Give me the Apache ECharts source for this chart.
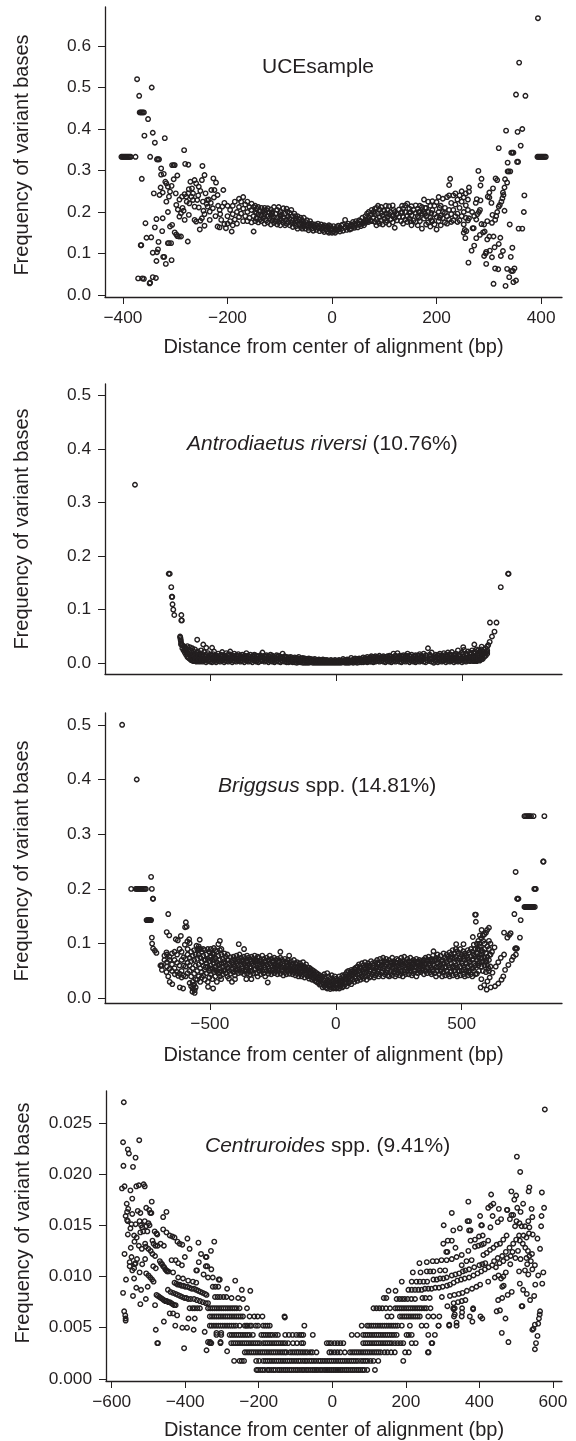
<!DOCTYPE html>
<html><head><meta charset="utf-8">
<style>html,body{margin:0;padding:0;background:#fff}#c{width:576px;height:1441px}</style>
<script src="https://cdn.jsdelivr.net/npm/echarts@6/dist/echarts.min.js"></script>
</head><body><div id="c"></div>
<script>
// ---------- tick labels ----------
const uceXTicks=[-400,-200,0,200,400];
const uceYTicks=[0,0.1,0.2,0.3,0.4,0.5,0.6];
const antroXTicks=[-500,0,500];
const antroYTicks=[0,0.1,0.2,0.3,0.4,0.5];
const briggsXTicks=[-500,0,500];
const briggsYTicks=[0,0.1,0.2,0.3,0.4,0.5];
const centXTicks=[-600,-400,-200,0,200,400,600];
const centYTicks=[0,0.005,0.01,0.015,0.02,0.025];
const yName='Frequency of variant bases';
const xName='Distance from center of alignment (bp)';

// ---------- UCE sample: [x, y] read points, then [x, y, y, ...] columns in the dense band ----------
const ucePoints=[[-403,.333],[-401,.333],[-399,.333],[-397,.333],[-395,.333],[-393,.333],[-391,.333],[-389,.333],[-387,.333],[-385,.333],[-376,.333],[-373,.52],[-369,.48],[-368,.44],[-366,.44],[-364,.44],[-362,.44],[-360,.44],[-352,.424],[-345,.5],[-343,.391],[-359,.384],[-339,.367],[-320,.378],[-348,.333],[-335,.327],[-333,.327],[-331,.327],[-327,.305],[-364,.28],[-327,.29],[-322,.292],[-341,.245],[-330,.241],[-324,.247],[-328,.259],[-319,.273],[-317,.269],[-314,.261],[-307,.263],[-317,.225],[-312,.237],[-310,.249],[-299,.245],[-303,.279],[-296,.288],[-306,.313],[-303,.313],[-301,.313],[-283,.349],[-281,.316],[-275,.314],[-248,.311],[-357,.173],[-336,.183],[-324,.185],[-339,.163],[-325,.154],[-355,.138],[-346,.139],[-332,.128],[-366,.12],[-365,.12],[-314,.2],[-310,.165],[-306,.169],[-301,.151],[-298,.146],[-296,.142],[-293,.141],[-289,.141],[-276,.129],[-314,.125],[-312,.125],[-308,.125],[-333,.11],[-343,.102],[-335,.103],[-323,.092],[-321,.092],[-336,.082],[-307,.084],[-318,.075],[-371,.04],[-363,.04],[-360,.039],[-343,.043],[-337,.041],[-348,.03],[-349,.028],
[-292,.23],[-287,.237],[-282,.243],[-279,.237],[-275,.245],[-271,.273],[-274,.255],[-268,.257],[-263,.277],[-260,.269],[-255,.261],[-252,.251],[-249,.277],[-244,.289],[-269,.237],[-266,.229],[-258,.229],[-247,.225],[-239,.229],[-231,.253],[-227,.281],[-222,.271],[-208,.253],[-225,.253],[-219,.241],[-298,.217],[-295,.206],[-289,.197],[-284,.203],[-292,.189],[-282,.181],[-274,.193],[-273,.221],[-263,.213],[-255,.211],[-246,.203],[-238,.213],[-234,.201],[-228,.209],[-263,.181],[-260,.177],[-252,.179],[-249,.185],[-244,.167],[-253,.158],[-234,.181],[-223,.19],[-219,.165],[-215,.163],[-215,.205],[-210,.213],[-206,.222],[-212,.181],[-206,.171],[-203,.161],[-192,.153],[-150,.153],[-240,.22],[-236,.23],[-242,.245],[-256,.24],[-266,.245],[-286,.21],[-278,.225],[-244,.195],[-232,.222],[-226,.235],[-218,.215],[-214,.195],
[394,.667],[358,.56],[352,.483],[370,.48],[333,.396],[355,.393],[364,.4],[361,.36],[319,.354],[343,.343],[345,.343],[347,.343],[393,.333],[395,.333],[397,.333],[399,.333],[401,.333],[403,.333],[405,.333],[407,.333],[409,.333],[336,.319],[354,.321],[356,.321],[336,.298],[338,.298],[341,.298],[280,.299],[226,.28],[286,.28],[313,.281],[316,.277],[331,.279],[335,.271],[224,.265],[262,.259],[284,.264],[330,.259],[308,.257],[262,.249],[301,.247],[298,.237],[301,.235],[327,.247],[328,.241],[368,.24],[326,.233],[324,.225],[321,.217],[319,.213],[305,.222],[277,.231],[284,.228],[275,.222],[330,.203],[367,.2],[316,.2],[307,.193],[314,.19],[312,.181],[340,.17],[357,.16],[364,.16],[297,.178],[306,.174],[286,.171],[291,.17],[269,.161],[271,.161],[292,.153],[289,.151],[283,.145],[276,.137],[301,.141],[297,.134],[309,.141],[322,.138],[254,.157],[257,.154],[252,.15],[255,.137],[319,.123],[311,.115],[302,.107],[295,.104],[294,.1],[272,.119],[267,.107],[345,.114],[327,.106],[323,.094],[342,.092],[291,.094],[306,.091],[261,.078],[295,.075],[312,.064],[318,.062],[335,.063],[343,.058],[346,.058],[349,.064],[339,.043],[309,.027],[332,.022],[347,.031],[352,.035],[283,.205],[278,.195],[272,.19],[268,.2],[262,.185],[276,.182],[281,.2]];
const uceColumns=[[-200,.19,.172,.215],[-195,.178,.205],[-190,.168,.215,.195],[-186,.182,.225],[-182,.2,.172],[-178,.212,.188,.232],[-174,.196,.225],[-170,.208,.178,.236],[-166,.19,.218],[-162,.2,.225,.178],[-158,.186,.212],[-154,.205,.175,.22],[-150,.19,.212],[-147,.2,.178,.215],[-144,.186,.208],[-141,.195,.212,.175],[-138,.182,.203],[-135,.192,.21,.178],[-132,.185,.2],[-129,.196,.172,.21],[-126,.18,.205],[-123,.19,.209,.175],[-120,.184,.198],[-117,.194,.17,.206],[-114,.18,.2],[-111,.188,.212,.174],[-108,.178,.196],[-105,.186,.205,.17],[-102,.176,.212],[-99,.19,.168,.2],[-96,.18,.194],[-93,.174,.209,.186],[-90,.168,.196],[-87,.182,.208,.172],[-84,.176,.19],[-81,.168,.198,.184],[-78,.174,.205],[-75,.18,.164,.19],[-72,.172,.196],[-69,.166,.184],[-66,.176,.19,.16],[-63,.17,.182],[-60,.164,.186],[-57,.172,.16,.18],[-54,.168,.186],[-51,.16,.176],[-48,.166,.18],[-45,.162,.172,.156],[-42,.168,.178],[-39,.16,.172],[-36,.155,.166],[-33,.163,.17],[-30,.157,.168],[-27,.162,.172],[-24,.154,.166],[-21,.16,.17],[-18,.156,.164],[-15,.152,.168],[-12,.158,.166],[-9,.153,.164],[-6,.15,.162,.168],[-3,.155,.166],[0,.15,.16],[3,.153,.166],[6,.15,.158],[9,.155,.164],[12,.158,.167],[15,.153,.162],[18,.16,.168],[21,.155,.17],[25,.181,.162],[28,.157,.168],[31,.163,.172],[34,.158,.166],[37,.16,.17],[40,.165,.176],[43,.162,.172],[46,.168,.178],[49,.163,.174],[52,.17,.18],[55,.166,.178],[58,.172,.186],[61,.176,.168],[64,.182,.19,.174],[67,.178,.196],[70,.186,.2,.176],[73,.18,.192],[76,.195,.178,.205],[79,.186,.2],[82,.176,.208,.195],[85,.182,.21,.168],[88,.196,.215,.176],[91,.172,.206,.188],[94,.198,.212,.18],[97,.17,.192],[100,.184,.203],[103,.175,.196,.215],[106,.188,.205],[109,.17,.214,.195],[112,.182,.2],[116,.19,.216,.175],[120,.162,.2,.186],[124,.195,.18],[128,.188,.206],[132,.178,.198],[136,.188,.208,.172],[140,.2,.182,.216],[144,.19,.22,.176],[148,.198,.208,.184],[152,.192,.168,.214],[156,.18,.205],[160,.198,.176,.216],[164,.19,.168,.208],[168,.178,.215,.2],[172,.196,.16,.212],[176,.184,.2,.23],[180,.17,.21,.19],[184,.225,.175,.2],[188,.186,.165,.215],[192,.205,.178,.226],[196,.17,.215,.195],[200,.188,.158,.224],[204,.2,.178,.236],[208,.192,.168,.215],[212,.232,.185,.2],[216,.175,.21,.198],[220,.236,.19,.172],[224,.205,.182,.24],[228,.222,.176,.195],[232,.24,.205,.18],[236,.218,.19,.245],[240,.196,.23,.176],[244,.24,.21,.18],[248,.225,.19,.25],[252,.235,.2,.17],[256,.216,.245,.186],[260,.23,.18,.205],[-145,.197,.184],[-130,.19,.203],[-115,.186,.197],[-100,.195,.182],[-85,.188,.201],[-70,.178,.19],[-55,.176,.165],[105,.196,.18],[118,.205,.192],[134,.2,.215],[150,.178,.2],[166,.2,.186],[178,.196,.21],[190,.198,.18],[206,.21,.186]];

// ---------- Antrodiaetus riversi ----------
const antroPoints=[[-798,.333],[-664,.167],[-660,.167],[-654,.142],[-652,.124],[-650,.124],[-649,.11],[-646,.1],[-642,.09],[-614,.09],[-614,.08],[-612,.08],[-619,.05],[-618,.048],[-617,.045],[-616,.042],[-551,.044],[-527,.035],[-515,.029],[-492,.029],[365,.028],[388,.001],[505,.03],[549,.035],[578,.031],[611,.076],[637,.076],[654,.142],[683,.167],[685,.167],[629,.059],[619,.05],[610,.04],[604,.034],[600,.031]];
const antroColumns=[[-615,.038,.035],[-610,.034,.028],[-605,.032,.024],[-600,.03,.02,.026],[-595,.028,.016,.022],[-590,.032,.012,.02],[-585,.026,.01,.018],[-580,.03,.008,.016],[-575,.024,.006,.014],[-570,.028,.005,.012],[-565,.022,.004,.016],[-560,.026,.004,.011],[-554,.02,.003,.012],[-548,.022,.004,.01],[-542,.018,.003,.013],[-536,.024,.004,.009],[-530,.017,.003,.012],[-524,.021,.005,.01],[-516,.016,.002,.009],[-508,.019,.004,.012],[-500,.016,.003,.008],[-492,.014,.002,.01],[-484,.022,.004,.012],[-476,.015,.002,.008],[-468,.018,.004,.011],[-460,.014,.003,.008],[-452,.021,.005,.012],[-444,.015,.002,.009],[-436,.019,.004,.011],[-428,.016,.003,.008],[-420,.022,.005,.012],[-412,.015,.002,.009],[-404,.018,.004,.011],[-396,.015,.003,.008],[-388,.017,.005,.012],[-380,.014,.003,.008],[-372,.016,.004,.011],[-364,.014,.002,.009],[-356,.019,.005,.011],[-348,.014,.003,.008],[-340,.016,.004,.01],[-332,.013,.002,.008],[-324,.016,.005,.01],[-316,.014,.003,.008],[-308,.013,.002,.009],[-300,.015,.004,.01],[-292,.02,.005,.011],[-284,.014,.003,.008],[-276,.015,.004,.01],[-268,.013,.002,.008],[-260,.016,.004,.01],[-252,.014,.003,.009],[-244,.012,.002,.007],[-236,.015,.004,.01],[-228,.014,.003,.008],[-220,.012,.002,.009],[-212,.018,.004,.01],[-204,.013,.003,.008],[-196,.012,.002,.007],[-188,.011,.002,.008],[-180,.012,.003,.007],[-172,.01,.002,.006],[-164,.011,.002,.007],[-156,.01,.001,.006],[-148,.012,.002,.007],[-140,.009,.002,.005],[-132,.01,.001,.006],[-124,.009,.001,.005],[-116,.008,.001,.005],[-108,.009,.001,.004],[-100,.008,.002,.005],[-92,.007,.001,.004],[-84,.008,.001,.005],[-76,.006,.001,.004],[-68,.007,.001,.003],[-60,.006,.001,.004],[-52,.007,.001,.004],[-44,.006,.001,.003],[-36,.006,.001,.004],[-28,.005,.001,.003],[-20,.006,.001,.003],[-12,.005,.001,.004],[-4,.006,.001,.003],[4,.005,.001,.003],[12,.006,.001,.004],[20,.005,.001,.003],[28,.008,.002,.004],[36,.006,.001,.003],[44,.007,.001,.004],[52,.006,.001,.004],[60,.01,.002,.005],[68,.007,.001,.004],[76,.009,.002,.005],[84,.008,.001,.005],[92,.009,.002,.006],[100,.008,.002,.005],[108,.011,.002,.006],[116,.01,.003,.007],[124,.012,.002,.006],[132,.01,.003,.007],[140,.013,.003,.007],[148,.012,.002,.008],[156,.013,.003,.008],[164,.012,.004,.008],[172,.014,.003,.009],[180,.012,.004,.008],[188,.013,.003,.009],[196,.012,.002,.008],[204,.013,.004,.009],[212,.014,.003,.008],[220,.012,.002,.009],[228,.018,.004,.01],[236,.014,.003,.008],[244,.019,.004,.01],[252,.013,.003,.009],[260,.014,.002,.008],[268,.015,.004,.01],[276,.013,.003,.008],[284,.018,.004,.01],[292,.014,.002,.008],[300,.016,.004,.009],[308,.013,.003,.008],[316,.015,.002,.01],[324,.014,.004,.009],[332,.017,.003,.008],[340,.014,.005,.01],[348,.018,.003,.009],[356,.015,.002,.01],[372,.016,.004,.009],[380,.02,.003,.01],[396,.016,.004,.011],[404,.015,.002,.009],[412,.018,.004,.011],[420,.015,.003,.008],[428,.019,.005,.012],[436,.016,.002,.009],[444,.02,.004,.012],[452,.017,.003,.009],[460,.021,.005,.012],[468,.016,.002,.009],[476,.018,.004,.012],[484,.024,.003,.009],[492,.017,.005,.012],[500,.02,.002,.009],[508,.025,.004,.012],[516,.018,.003,.009],[524,.022,.005,.012],[532,.02,.004,.011],[540,.024,.005,.013],[546,.02,.004,.012],[552,.022,.005,.014],[558,.026,.004,.012],[564,.024,.006,.014],[570,.022,.005,.012],[576,.026,.007,.016],[582,.022,.008,.014],[588,.026,.012,.018],[594,.028,.014,.02],[600,.024,.018,.021]];
const antroExtra=[[-572,.017,.009],[-557,.016,.007],[-545,.014,.007],[-533,.015,.006],[-520,.013,.006],[-504,.014,.006],[-488,.017,.007],[-472,.013,.006],[-456,.016,.007],[-440,.013,.006],[-424,.017,.007],[-408,.013,.006],[-392,.014,.007],[-376,.012,.006],[-360,.014,.007],[-344,.012,.006],[-328,.014,.007],[-312,.012,.006],[-296,.013,.007],[-280,.012,.006],[-264,.013,.006],[-248,.011,.006],[-232,.012,.006],[-216,.012,.006],[-200,.011,.005],[-184,.01,.005],[-168,.009,.005],[-152,.009,.004],[-136,.008,.004],[-120,.007,.003],[120,.008,.005],[136,.01,.005],[152,.01,.006],[168,.011,.006],[184,.011,.006],[200,.012,.006],[216,.012,.006],[232,.013,.006],[248,.013,.007],[264,.012,.006],[280,.014,.007],[296,.012,.006],[312,.013,.006],[328,.014,.007],[344,.012,.007],[360,.014,.006],[376,.014,.007],[392,.013,.006],[408,.015,.007],[424,.014,.006],[440,.015,.007],[456,.014,.007],[472,.015,.007],[488,.015,.006],[504,.017,.007],[520,.016,.008],[536,.018,.008],[550,.018,.009],[566,.018,.01],[580,.019,.011]];

// ---------- Briggsus spp. ----------
const briggsPoints=[[-848,.5],[-790,.4],[-812,.2],[-794,.2],[-790,.2],[-786,.2],[-782,.2],[-778,.2],[-774,.2],[-770,.2],[-766,.2],[-762,.2],[-758,.2],[-754,.2],[-730,.2],[-733,.222],[-726,.182],[-725,.182],[-751,.143],[-748,.143],[-745,.143],[-742,.143],[-739,.143],[-736,.143],[-733,.143],[-730,.111],[-729,.1],[-725,.091],[-718,.087],[-712,.083],[-665,.154],[-671,.121],[-661,.115],[-615,.114],[-635,.108],[-627,.106],[-595,.139],[-598,.13],[-592,.131],[-582,.108],[-589,.104],[-540,.107],[-599,.098],[-580,.101],[-553,.096],[-543,.091],[-460,.105],[-466,.099],[-454,.09],[-385,.099],[-364,.09],[-696,.06],[-693,.06],[-672,.084],[-672,.048],[-665,.04],[-659,.03],[-649,.026],[-639,.044],[-625,.041],[-612,.038],[-619,.02],[-606,.018],[-566,.024],[-560,.015],[-569,.012],[-560,.01],[-507,.021],[-487,.018],[-455,.035],[-400,.035],[-355,.035],[-335,.035],[-270,.029],[-250,.066],[-220,.085],[-185,.078],
[828,.333],[749,.333],[755,.333],[760,.333],[765,.333],[770,.333],[775,.333],[785,.333],[823,.25],[825,.25],[714,.231],[788,.2],[791,.2],[794,.2],[720,.182],[722,.182],[725,.182],[749,.167],[753,.167],[757,.167],[761,.167],[765,.167],[769,.167],[773,.167],[777,.167],[781,.167],[785,.167],[790,.167],[709,.154],[734,.143],[553,.153],[556,.153],[556,.14],[668,.12],[694,.119],[689,.116],[681,.111],[731,.111],[712,.091],[714,.091],[717,.091],[719,.091],[668,.08],[608,.129],[601,.125],[579,.125],[590,.117],[572,.115],[544,.112],[478,.099],[507,.099],[388,.086],[599,.016],[615,.02],[632,.022],[645,.027],[658,.034],[665,.04],[672,.052],[685,.061],[699,.07],[705,.076],[715,.08],[575,.02],[589,.024],[602,.031],[611,.038],[622,.047],[635,.058],[645,.066],[655,.074],[620,.085],[630,.093],[612,.08],[598,.07],[606,.055],[568,.05],[560,.045],[578,.035],[590,.09],[585,.105],[570,.1],[563,.09]];
const briggsColumns=[[-690,.06,.052],[-680,.078,.07],[-670,.066,.08,.058],[-660,.054,.076,.07],[-650,.062,.05,.082],[-640,.055,.07,.085],[-630,.048,.065,.08],[-620,.06,.045,.09],[-612,.07,.05,.085],[-604,.042,.075,.06],[-596,.058,.072,.04],[-588,.046,.08,.065,.09],[-580,.028,.06,.074,.05],[-574,.04,.068,.085,.022],[-568,.055,.03,.078,.018],[-562,.045,.07,.088,.025],[-556,.06,.035,.08,.02],[-550,.05,.072,.09,.034],[-544,.04,.062,.08,.095],[-538,.055,.03,.075,.09],[-532,.048,.066,.085,.038],[-526,.06,.042,.078,.09],[-520,.052,.07,.034,.088],[-514,.046,.064,.08],[-508,.058,.03,.072,.09],[-502,.05,.068,.038,.085],[-496,.044,.06,.078,.09],[-490,.055,.07,.035,.082],[-484,.048,.064,.08,.092],[-478,.058,.04,.074,.088],[-472,.05,.066,.03,.085],[-466,.045,.06,.078],[-460,.055,.07,.04,.088],[-454,.05,.064,.08],[-448,.044,.058,.072],[-442,.052,.068,.082],[-436,.046,.06,.076],[-430,.04,.055,.07,.08],[-424,.05,.064,.036],[-418,.045,.06,.075],[-412,.052,.066,.03],[-406,.048,.062,.076],[-400,.042,.058,.07],[-394,.05,.064,.078],[-388,.046,.06,.072],[-382,.052,.068,.08],[-376,.047,.062,.074],[-370,.05,.058,.07],[-364,.044,.064,.076],[-358,.05,.06,.072],[-352,.045,.056,.068,.078],[-346,.05,.062,.074],[-340,.043,.058,.07],[-334,.05,.064,.076],[-328,.045,.06,.072],[-322,.052,.066,.078],[-316,.046,.06,.07],[-310,.04,.056,.068,.076],[-304,.05,.062,.074],[-298,.044,.058,.07],[-292,.05,.064,.078],[-286,.046,.06,.072],[-280,.04,.056,.068],[-274,.05,.062,.074],[-268,.045,.058,.07],[-262,.05,.064,.078],[-256,.044,.06,.072],[-250,.05,.058,.068],[-244,.046,.062,.074],[-238,.05,.056,.07],[-232,.044,.06,.072],[-226,.05,.058,.068],[-220,.045,.062,.074],[-214,.05,.056,.07],[-208,.042,.06,.068],[-202,.048,.056,.072],[-196,.044,.058,.066],[-190,.05,.06,.07],[-184,.045,.055,.065],[-178,.05,.058,.068],[-172,.044,.054,.062],[-166,.048,.058,.07],[-160,.042,.052,.064],[-154,.046,.056,.066],[-148,.04,.05,.06],[-142,.045,.055,.064],[-136,.04,.05,.06],[-130,.044,.054,.066],[-124,.038,.05,.058],[-118,.044,.052,.062],[-112,.04,.05,.056],[-106,.036,.046,.056],[-100,.04,.048,.054],[-94,.034,.044,.052],[-88,.036,.046,.05],[-82,.032,.04,.048],[-76,.03,.04,.046],[-70,.028,.038,.044],[-64,.025,.034,.042],[-58,.026,.036,.04],[-52,.02,.03,.04],[-46,.022,.032,.044],[-40,.02,.028,.036],[-34,.018,.028,.046],[-28,.022,.03,.04],[-22,.017,.026,.036],[-16,.02,.03,.042],[-10,.018,.026,.034],[-4,.02,.03,.04],[2,.018,.026,.036],[8,.02,.03,.034],[14,.018,.028,.04],[20,.022,.03,.036],[26,.02,.032,.042],[32,.022,.034,.04],[38,.026,.036,.044],[44,.022,.034,.048],[50,.028,.04,.05],[56,.03,.04,.046],[62,.026,.042,.052],[68,.034,.044,.05],[74,.03,.046,.054],[80,.036,.048,.056],[86,.032,.044,.058],[92,.038,.05,.062],[98,.034,.048,.056],[104,.04,.052,.064],[110,.036,.05,.06],[116,.04,.054,.066],[122,.034,.048,.06],[128,.042,.056,.064],[134,.038,.05,.06],[140,.04,.052,.068],[146,.044,.056,.064],[152,.038,.05,.06],[158,.042,.054,.066],[164,.046,.058,.07],[170,.04,.052,.062],[176,.044,.056,.072],[182,.048,.06,.066],[188,.04,.054,.074],[194,.044,.058,.068],[200,.048,.062,.072],[206,.042,.054,.064],[212,.04,.058,.07],[218,.046,.06,.066],[224,.042,.056,.074],[230,.048,.062,.068],[236,.04,.056,.066],[242,.044,.058,.072],[248,.048,.06,.07],[254,.042,.056,.066],[260,.046,.062,.074],[266,.04,.058,.068],[272,.048,.06,.076],[278,.044,.056,.066],[284,.05,.062,.072],[290,.044,.058,.068],[296,.05,.06,.074],[302,.042,.056,.066],[308,.046,.062,.07],[314,.05,.058,.068],[320,.04,.056,.072],[326,.046,.06,.066],[332,.05,.058,.07],[338,.048,.062,.068],[344,.052,.06,.066],[350,.044,.058,.07],[356,.05,.062,.074],[362,.046,.056,.068],[368,.052,.064,.076],[374,.048,.06,.07],[380,.044,.056,.072],[386,.05,.062,.078],[392,.046,.06,.07],[398,.04,.056,.074],[404,.05,.064,.08],[410,.044,.058,.072],[416,.05,.062,.078],[422,.04,.056,.07],[428,.048,.064,.082],[434,.042,.058,.074],[440,.05,.066,.08],[446,.044,.06,.076],[452,.04,.056,.07,.084],[458,.05,.064,.08],[464,.042,.058,.074,.088],[470,.05,.066,.082],[476,.044,.06,.076,.09],[482,.04,.056,.07,.086],[488,.05,.066,.082],[494,.042,.058,.076,.09],[500,.05,.064,.08],[506,.044,.06,.072,.086],[512,.04,.056,.07,.082],[518,.05,.064,.078],[524,.042,.058,.074,.088],[530,.05,.066,.084],[536,.044,.06,.076,.09],[542,.04,.054,.07,.085],[548,.05,.064,.08,.098],[554,.044,.06,.076,.09],[560,.07,.082,.1],[566,.06,.075,.09,.105],[572,.066,.08,.095],[578,.058,.074,.088,.11],[584,.05,.068,.085,.115],[590,.06,.075,.1],[596,.048,.066,.082,.12],[602,.06,.076,.095],[608,.05,.07,.09,.105],[614,.058,.08,.1]];
const briggsExtra=[[-517,.057,.07],[-499,.054,.075],[-481,.052,.07],[-463,.048,.063],[-445,.05,.064],[-427,.056,.07],[-409,.055,.07],[-391,.054,.068],[-373,.054,.068],[-355,.052,.066],[-337,.056,.068],[-319,.054,.069],[-301,.054,.067],[-283,.052,.066],[-265,.054,.07],[-247,.054,.067],[-229,.054,.066],[-211,.052,.064],[-193,.054,.065],[-175,.052,.062],[-157,.05,.062],[-139,.048,.056],[-121,.046,.056],[-103,.044,.051],[-85,.042,.036],[-67,.036,.03],[-49,.034,.026],[-31,.033,.024],[-13,.03,.022],[5,.032,.024],[23,.03,.026],[41,.03,.04],[59,.036,.048],[77,.04,.052],[95,.044,.056],[113,.046,.056],[131,.046,.058],[149,.048,.056],[167,.05,.064],[185,.048,.062],[203,.052,.066],[221,.05,.064],[239,.052,.064],[257,.05,.068],[275,.052,.064],[293,.054,.066],[311,.052,.064],[329,.054,.064],[347,.055,.07],[365,.056,.07],[383,.052,.068],[401,.058,.07],[419,.052,.068],[437,.056,.07],[455,.048,.074],[473,.056,.072],[491,.05,.072],[509,.052,.076],[527,.048,.07],[545,.056,.072],[563,.064,.082],[581,.066,.08]];

// ---------- Centruroides spp. ----------
const centPoints=[[-567,.027],[-569,.0231],[-556,.0224],[-553,.022],[-535,.0216],[-525,.0233],[-568,.0208],[-542,.0207],[-572,.0186],[-565,.0188],[-549,.0184],[-533,.0188],[-526,.0189],[-513,.019],[-510,.0188],[-544,.0176],[-559,.0171],[-491,.0173],[-506,.0167],[-498,.0165],[-495,.0162],[-492,.0162],[-529,.0164],[-522,.0162],[-451,.0163],[-460,.0158],[-555,.0166],[-558,.0163],[-562,.0159],[-544,.0161],[-556,.0154],[-549,.0147],[-558,.0155],[-546,.0151],[-535,.0151],[-524,.0154],[-520,.015],[-517,.0148],[-514,.0144],[-510,.0154],[-506,.0149],[-503,.0144],[-522,.0143],[-500,.0152],[-497,.015],[-556,.0141],[-539,.014],[-532,.0138],[-538,.0134],[-509,.0132],[-526,.013],[-518,.0127],[-507,.0129],[-500,.0127],[-494,.0125],[-489,.0122],[-482,.012],[-548,.0128],[-565,.0122],[-546,.0119],[-531,.0117],[-509,.0117],[-517,.0112],[-551,.0114],[-537,.0112],[-535,.0113],[-551,.011],[-544,.0106],[-539,.0108],[-524,.0104],[-561,.0097],[-539,.0098],[-506,.0103],[-500,.0101],[-495,.0099],[-490,.0097],[-486,.0095],[-469,.0115],[-466,.0113],[-463,.0112],[-460,.011],[-457,.0109],[-454,.0107],[-451,.0106],[-449,.0105],[-446,.0105],[-487,.011],[-480,.0108],[-460,.0146],[-451,.0143],[-442,.014],[-435,.0139],[-429,.0138],[-421,.0134],[-415,.0132],[-408,.0131],[-478,.0142],[-483,.0144],[-476,.0141],[-489,.0135],[-486,.0132],[-475,.013],[-481,.013],[-467,.0132],[-458,.013],[-437,.0116],[-426,.0116],[-419,.0113],[-409,.0111],[-401,.0119],[-394,.0137],[-388,.0127],[-364,.0133],[-357,.0122],[-344,.0119],[-342,.0119],[-363,.0114],[-330,.0125],[-321,.0134],[-370,.0106],[-368,.0106],[-344,.011],[-340,.011],[-329,.0107],[-433,.0104],[-419,.0099],[-406,.0098],[-392,.0096],[-379,.0095],[-370,.0094],[-350,.0102],[-338,.0099],[-325,.0099],[-309,.0097],[-306,.0097],
[-569,.0084],[-542,.0081],[-533,.0089],[-520,.0087],[-502,.009],[-507,.0078],[-522,.0073],[-482,.0072],[-566,.0066],[-563,.0062],[-562,.0059],[-562,.0057],[-480,.0048],[-476,.0035],[-474,.0035],[-458,.0056],[-442,.0064],[-433,.0064],[-422,.0062],[-427,.0052],[-408,.005],[-395,.005],[-377,.0048],[-403,.003],[-391,.0059],[-374,.0059],[-347,.0046],[-342,.0028],[-338,.0036],[-332,.0036],[-315,.0045],[-302,.0045],[-304,.0036],[-286,.0027],[-264,.0096],[-286,.0088],[-246,.0087],[-223,.0086],[-232,.0069],[-129,.006],
[-478,.0082],[-474,.0081],[-470,.008],[-466,.0079],[-462,.0078],[-458,.0077],[-454,.0076],[-450,.0076],[-446,.0075],[-442,.0075],[-438,.0074],[-434,.0073],[-430,.0072],[-426,.0072],[-447,.0087],[-440,.0085],[-433,.0084],[-426,.0083],[-420,.0082],[-414,.0081],[-408,.008],[-402,.0079],[-397,.0079],[-392,.0078],[-385,.0078],[-376,.0078],[-368,.0077],[-360,.0076],[-352,.0075],[-344,.0074],[-338,.0074],[-429,.0094],[-424,.0093],[-420,.0092],[-415,.0092],[-410,.0091],[-405,.0091],[-400,.009],[-394,.009],[-388,.0089],[-382,.0088],[-376,.0088],[-370,.0087],[-364,.0086],[-358,.0085],[-352,.0084],[-346,.0083],[-342,.0082],[-319,.008],[-312,.008],[-305,.008],[-296,.008],[-288,.008],[-274,.0079],[-256,.0079],[-243,.0078],[-325,.009],[-318,.009],[-310,.009],
[578,.0263],[502,.0217],[511,.0202],[536,.0187],[534,.0183],[487,.0183],[500,.0179],[495,.0175],[570,.0182],[432,.018],[370,.0173],[519,.0171],[503,.0167],[512,.0163],[576,.0167],[542,.0166],[475,.0165],[476,.0165],[453,.0166],[438,.0171],[431,.0169],[424,.0167],[325,.0162],[402,.0159],[436,.0159],[459,.0156],[450,.0153],[483,.0156],[487,.016],[492,.016],[544,.0158],[569,.0159],[368,.0154],[372,.0154],[405,.015],[407,.015],[430,.0148],[303,.015],[329,.0145],[347,.0147],[372,.0145],[376,.0145],[501,.0154],[509,.0152],[497,.0149],[515,.0149],[524,.0149],[536,.0148],[533,.0154],[568,.0149],[545,.0141],[558,.0137],[565,.0127],[302,.0132],[314,.0135],[325,.0135],[376,.0135],[388,.0136],[399,.0139],[409,.014],[335,.0128],[310,.0124],[313,.0124],[388,.0129],[397,.013],[406,.0131],[412,.0132],[424,.0135],[411,.0121],[420,.0123],[429,.0126],[438,.0128],[447,.0131],[456,.0132],[465,.0136],[474,.014],[237,.0113],[257,.0114],[273,.0115],[284,.0115],[297,.0116],[311,.0116],[325,.0117],[338,.0119],[352,.0121],[370,.0125],[219,.0104],[240,.0104],[257,.0105],[266,.0105],[275,.0105],[293,.0106],[307,.0106],[352,.0111],[365,.0115],[379,.0116],[189,.0095],[216,.0095],[229,.0095],[238,.0095],[248,.0095],[258,.0095],[275,.0097],[284,.0097],[293,.0098],[302,.0098],[311,.0099],[325,.0101],[335,.0102],[345,.0103],[355,.0105],[362,.0106],[372,.0107],[386,.0109],[400,.0111],[408,.0112],[416,.0113],[440,.0115],[450,.0118],[462,.012],[472,.0124],[482,.0128],[492,.0132],[500,.0136],[508,.014],[153,.0086],[172,.0086],[207,.0087],[216,.0087],[225,.0087],[234,.0087],[243,.0087],[252,.0088],[261,.0088],[270,.0088],[280,.0089],[290,.0089],[300,.009],[312,.0091],[320,.0092],[330,.0094],[340,.0096],[350,.0097],[360,.0098],[372,.0099],[384,.0101],[395,.0103],[405,.0105],[415,.0107],[425,.0109],[435,.0111],[445,.0109],[455,.0113],[465,.0115],[475,.0118],[485,.012],[140,.0079],[147,.0079],[175,.0078],[183,.0078],[190,.0078],[197,.0078],[205,.0078],[215,.0078],[225,.0078],[245,.0079],[253,.0079],[265,.0079],[298,.008],[320,.0081],[332,.0082],[344,.0083],[354,.0084],[366,.0086],[380,.0088],[392,.009],[402,.0092],[424,.0095],[442,.0099],[452,.0101],[459,.0098],[465,.01],[472,.0104],[462,.009],[466,.0091],[313,.0071],[330,.0074],[342,.0075],[352,.0076],[362,.0077],[330,.0068],[333,.0063],[353,.0065],[383,.0068],[381,.0056],[408,.0059],[318,.0053],[338,.0055],[289,.0052],
[508,.0105],[524,.0106],[533,.0102],[544,.0107],[551,.0111],[560,.0101],[574,.0104],[510,.0093],[519,.0087],[529,.0083],[538,.0077],[549,.0081],[552,.0092],[571,.0093],[565,.0066],[564,.0063],[562,.0059],[560,.0054],[551,.0053],[547,.0049],[544,.0048],[558,.0042],[554,.0035],[551,.0029],[461,.0045],[479,.0036],[471,.0059],[447,.0066],[456,.0067],[451,.0077],[462,.0079],[477,.0082],[488,.0085],[515,.0071],[517,.0071],[510,.0135],[518,.0132],[525,.0128],[532,.0125],[528,.0118],[536,.012],[543,.0122],[540,.0115],[530,.0112],[520,.014],[528,.0138],[535,.0142],[505,.0125],[498,.0118],[490,.0124],[484,.0112],[512,.0117]];
const centRowY=[.00088,.00176,.0026,.0035,.0043,.0052,.0061,.0069];
const centRow1=[-206,-202,-196,-190,-184,-176,-172,-166,-160,-155,-148,-143,-138,-132,-127,-122,-116,-111,-105,-99,-94,-88,-82,-77,-71,-66,-60,-54,-49,-44,-39,-33,-28,-22,-17,-12,-7,-2,3,8,13,18,23,28,34,39,44,50,55,60,66,71,76,82,87,95,116];
const centRow2=[-267,-252,-246,-240,-207,-199,-188,-182,-176,-170,-164,-158,-152,-146,-140,-134,-128,-122,-116,-110,-104,-98,-92,-87,-80,-74,-69,-62,-56,-50,-44,-37,-32,-26,-20,-14,-8,-2,4,10,16,22,28,34,40,46,52,58,64,70,78,84,90,96,104,112,125,193];
const centRow3=[-238,-232,-226,-220,-214,-208,-202,-196,-190,-184,-178,-172,-166,-160,-154,-148,-142,-136,-130,-125,-115,-109,-103,-97,-92,-86,-80,-74,-68,-60,-54,-43,-8,-2,6,14,22,34,48,54,60,66,72,78,84,90,96,102,108,114,120,126,132,142,150,160,170,198,208,260,262];
const centRow4=[-333,-329,-304,-275,-269,-263,-257,-251,-245,-239,-233,-227,-221,-215,-209,-203,-197,-188,-182,-176,-170,-164,-158,-152,-146,-140,-134,-128,-120,-107,-96,-84,-79,-15,-9,-3,6,14,22,30,84,90,96,102,108,114,120,126,132,138,144,150,156,162,170,178,186,193,216,227,270,272];
const centRow5=[-315,-302,-279,-273,-267,-261,-255,-249,-243,-237,-231,-225,-216,-193,-187,-181,-175,-169,-163,-155,-148,-128,-118,-108,-98,-90,-84,-79,-53,53,68,84,90,96,102,108,114,120,126,132,138,144,150,156,162,168,175,202,208,216,261,279];
const centRow6=[-333,-328,-322,-316,-310,-304,-298,-292,-286,-280,-274,-268,-262,-252,-238,-234,-230,-224,-220,-208,-202,-188,-182,-176,-170,-76,80,95,100,106,112,118,124,130,136,142,148,154,160,166,172,178,189,211,243,256,289,318,338];
const centRow7=[-333,-327,-321,-315,-309,-303,-297,-291,-285,-279,-273,-267,-261,-255,-249,-243,-225,-212,-203,-190,-130,150,161,184,190,196,202,208,214,220,226,232,238,261,275,291,331,352,374,403];
const centRow8=[-388,-380,-374,-367,-360,-338,-332,-326,-320,-314,-308,-302,-296,-290,-284,-278,-272,-266,-260,-252,112,120,128,136,146,157,171,177,183,189,195,201,207,213,219,225,231,237,243,250,256,267,329,333,353,383];

// ---------- annotations ----------
const panelNotes=['UCEsample','{i|Antrodiaetus riversi} (10.76%)','{i|Briggsus} spp. (14.81%)','{i|Centruroides} spp. (9.41%)'];

// ---------- build ----------
function expand(cols){const out=[];cols.forEach(c=>{for(let i=1;i<c.length;i++)out.push([c[0],c[i]]);});return out;}
const rows=[centRow1,centRow2,centRow3,centRow4,centRow5,centRow6,centRow7,centRow8];
const centRowPts=[];rows.forEach((r,i)=>r.forEach(x=>centRowPts.push([x,centRowY[i]])));
const seriesData=[ucePoints.concat(expand(uceColumns)),antroPoints.concat(expand(antroColumns),expand(antroExtra)),briggsPoints.concat(expand(briggsColumns),expand(briggsExtra)),centPoints.concat(centRowPts)];

const INK='#231f20',FONT='"Liberation Sans",Arial,sans-serif',FS=17.3,NFS=20,AFS=21;
const minus=s=>String(s).replace('-','\u2212');
const layouts=[
 {g:{left:105,top:7,width:457,height:290},x:[-434.4,440],y:[-.0048,.694],xt:uceXTicks,yt:uceYTicks,dec:1,xGap:40,yPad:[0,6,0,0],xn:true},
 {g:{left:105,top:384,width:457,height:290},x:[-917,897],y:[-.02,.521],xt:antroXTicks,yt:antroYTicks,dec:1,xGap:40,yPad:[0,0,0,0],xn:false},
 {g:{left:105,top:713,width:457,height:290},x:[-916,898],y:[-.0086,.5216],xt:briggsXTicks,yt:briggsYTicks,dec:1,xGap:42,yPad:[0,6,0,0],xn:true},
 {g:{left:106,top:1091,width:456,height:290},x:[-615.4,624.7],y:[-.0002,.0281],xt:centXTicks,yt:centYTicks,dec:3,xGap:39,yPad:[0,0,0,26],xn:true}
];
const axisCommon={axisLine:{onZero:false,lineStyle:{color:INK,width:1.3}},splitLine:{show:false},nameLocation:'middle'};
const nameStyle={color:INK,fontFamily:FONT,fontSize:NFS};
const option={animation:false,backgroundColor:'#fff',
 grid:layouts.map(l=>l.g),
 xAxis:layouts.map((l,i)=>Object.assign({},axisCommon,{type:'value',gridIndex:i,min:l.x[0],max:l.x[1],
   name:l.xn?xName:'',nameGap:l.xGap,nameTextStyle:nameStyle,
   axisTick:{length:7,lineStyle:{color:INK,width:1},customValues:l.xt},
   axisLabel:{show:l.xn,color:INK,fontFamily:FONT,fontSize:FS,margin:13,customValues:l.xt,formatter:v=>minus(v)}})),
 yAxis:layouts.map((l,i)=>Object.assign({},axisCommon,{type:'value',gridIndex:i,min:l.y[0],max:l.y[1],
   name:yName,nameGap:73,nameTextStyle:Object.assign({},nameStyle,{padding:l.yPad}),
   axisTick:{length:7,lineStyle:{color:INK,width:1},customValues:l.yt},
   axisLabel:{color:INK,fontFamily:FONT,fontSize:FS,margin:14,customValues:l.yt,formatter:v=>Number(v).toFixed(l.dec)}})),
 series:seriesData.map((d,i)=>({type:'scatter',xAxisIndex:i,yAxisIndex:i,data:d,symbol:'circle',symbolSize:4.5,silent:true,clip:false,
   itemStyle:{color:'rgba(0,0,0,0)',borderColor:INK,borderWidth:1.4,opacity:1}})),
 graphic:panelNotes.map((t,i)=>({type:'text',left:[262,187,218,205][i],top:[68,445,787,1147][i]-11,silent:true,
   style:{text:t,fill:INK,font:AFS+'px '+FONT,rich:{i:{fontStyle:'italic',fontFamily:FONT,fontSize:AFS,fill:INK}}}}))
};
const chart=echarts.init(document.getElementById('c'),null,{renderer:'canvas',width:576,height:1441});
chart.setOption(option);
</script></body></html>
